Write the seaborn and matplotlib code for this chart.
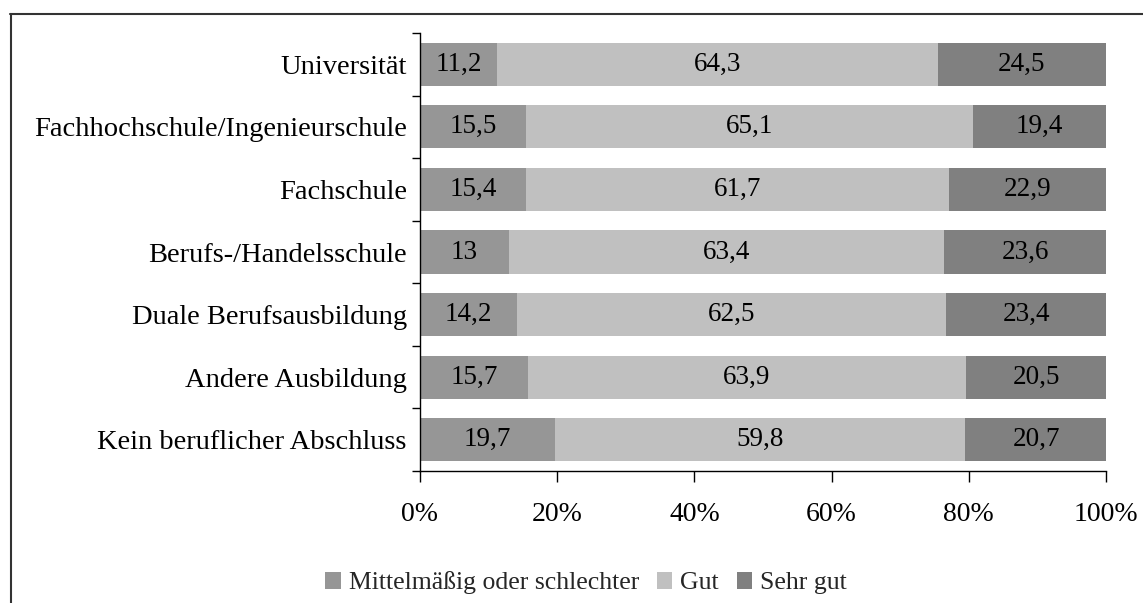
import matplotlib
matplotlib.use("Agg")
import matplotlib.pyplot as plt
import seaborn as sns
import pandas as pd
import numpy as np
from matplotlib.lines import Line2D
from matplotlib.patches import Patch

categories = ["Universität", "Fachhochschule/Ingenieurschule", "Fachschule",
              "Berufs-/Handelsschule", "Duale Berufsausbildung", "Andere Ausbildung",
              "Kein beruflicher Abschluss"]
mittel = [11.2, 15.5, 15.4, 13.0, 14.2, 15.7, 19.7]
gut = [64.3, 65.1, 61.7, 63.4, 62.5, 63.9, 59.8]
sehr_gut = [24.5, 19.4, 22.9, 23.6, 23.4, 20.5, 20.7]
series_names = ["Mittelmäßig oder schlechter", "Gut", "Sehr gut"]
tick_labels = ["0%", "20%", "40%", "60%", "80%", "100%"]

colors = ["#969696", "#c0c0c0", "#808080"]

sns.set_theme(style="white")
plt.rcParams['font.family'] = ['Liberation Serif', 'DejaVu Serif']
FS_Y = 20.5
FS_X = 20
FS_V = 19.5
FS_L = 18.5

df = pd.DataFrame({"cat": categories, "m": mittel, "g": gut, "s": sehr_gut})
df["c1"] = df["m"]
df["c2"] = df["m"] + df["g"]
df["c3"] = df["m"] + df["g"] + df["s"]

fig = plt.figure(figsize=(11.43, 6.03), dpi=100)
W, H = 1143, 603
ax = fig.add_axes([420 / W, 1 - 471 / H, (1106 - 420) / W, (471 - 33) / H])

for col, c in zip(["c3", "c2", "c1"], [colors[2], colors[1], colors[0]]):
    sns.barplot(data=df, y="cat", x=col, order=categories, color=c, orient="h",
                width=0.69, ax=ax, saturation=1, linewidth=0, edgecolor="none")

# value labels
for i, row in df.iterrows():
    lefts = [0, row["m"], row["m"] + row["g"]]
    vals = [row["m"], row["g"], row["s"]]
    for l, v in zip(lefts, vals):
        ax.text(l + v / 2, i, f"{v:g}".replace(".", ","), ha="center", va="center",
                fontsize=FS_V, color="black")

ax.set_xlim(0, 100)
ax.set_ylim(len(categories) - 0.5, -0.5)
ax.set_xlabel("")
ax.set_ylabel("")
ax.set_xticks(np.linspace(0, 100, len(tick_labels)))
ax.set_xticklabels(tick_labels, fontsize=FS_X)
ax.set_yticks(range(len(categories)))
ax.set_yticklabels(categories, fontsize=FS_Y)
ax.set_yticks(np.arange(-0.5, len(categories)), minor=True)

for s in ["top", "right"]:
    ax.spines[s].set_visible(False)
for s in ["left", "bottom"]:
    ax.spines[s].set_visible(True)
    ax.spines[s].set_color("black")
    ax.spines[s].set_linewidth(1)

ax.tick_params(axis="y", which="major", length=0, pad=9.5, colors="black")
ax.tick_params(axis="y", which="minor", left=True, length=6, width=1, color="black")
ax.tick_params(axis="x", which="major", bottom=True, direction="out", length=8, width=1,
               pad=14, colors="black")
ax.grid(False)

handles = [Patch(facecolor=c, edgecolor="none") for c in colors]
fig.legend(handles, series_names, loc="center", bbox_to_anchor=(586 / W, 1 - 583 / H),
           ncol=3, frameon=False, fontsize=FS_L, handlelength=0.6, handleheight=0.6,
           handletextpad=0.3, columnspacing=0.7)

# outer frame (top and left visible)
fig.add_artist(Line2D([10 / W, 1.0], [1 - 14 / H, 1 - 14 / H], transform=fig.transFigure,
                      color="#333333", linewidth=1.5))
fig.add_artist(Line2D([10.5 / W, 10.5 / W], [0, 1 - 14 / H], transform=fig.transFigure,
                      color="#333333", linewidth=1.5))

fig.savefig("out.png", dpi=100)
